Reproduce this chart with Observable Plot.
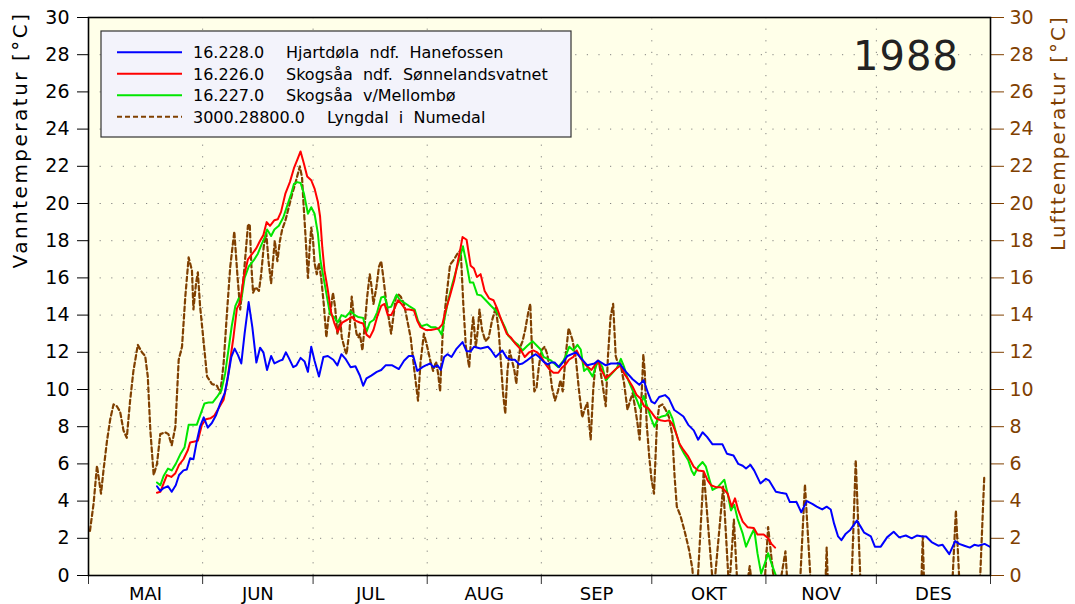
<!DOCTYPE html>
<html><head><meta charset="utf-8">
<script src="https://cdn.jsdelivr.net/npm/d3@7"></script>
<script src="https://cdn.jsdelivr.net/npm/@observablehq/plot@0.6"></script>
<style>
body{margin:0;background:#fff;}
#chart{width:1075px;height:604px;}
</style></head><body><div id="chart"></div>
<script>
// Month labels and month-start day offsets (day 0 = 1 May 1988)
const months = ["MAI","JUN","JUL","AUG","SEP","OKT","NOV","DES"];
const monthStarts = [0,31,61,92,123,153,184,214,245];
const yTicks = d3.range(0,31,2);
const yearLabel = "1988";
const leftTitle = "Vanntemperatur [°C]";
const rightTitle = "Lufttemperatur [°C]";
const legendCodes = ["16.228.0","16.226.0","16.227.0","3000.28800.0"];
const legendNames = ["Hjartdøla  ndf.  Hanefossen","Skogsåa  ndf.  Sønnelandsvatnet","Skogsåa  v/Mellombø","Lyngdal  i  Numedal"];

// [day, °C] — Lyngdal i Numedal air temperature
const air = [[0.4,2.4],[1.4,3.9],[2.3,5.9],[3.4,4.4],[4.1,5.7],[5,7.2],[5.9,8.4],[6.8,9.2],[7.7,9.1],[8.6,8.8],[9.5,7.8],[10.4,7.4],[11.3,9.4],[12.2,11],[13.4,12.4],[14.5,12],[15.4,11.8],[16.1,10.7],[16.8,7.8],[17.7,5.4],[18.6,6],[19.5,7.6],[20.8,7.7],[21.7,7.6],[22.6,7],[23.6,8],[24.5,11.6],[25.4,12.3],[26.3,15],[27.2,17.1],[28.1,16.4],[28.5,14.3],[29.2,15.7],[29.7,16.3],[30.3,14.5],[31.3,12.5],[32.2,10.7],[33.5,10.3],[34.9,10.2],[35.8,9.8],[36.7,11.4],[37.6,14.1],[38.5,16.6],[39.6,18.5],[40.5,16],[41.2,14.3],[42.2,16.2],[43.3,18.8],[43.8,18.9],[44.2,16.8],[44.7,15.2],[45.4,15.5],[46.3,15.3],[46.9,16.2],[47.6,17.7],[48.3,18.4],[48.9,16.9],[49.6,15.7],[50.2,17.1],[50.6,18],[51.3,16.9],[52,18],[52.6,18.6],[53.5,19.1],[54.4,19.8],[55.3,20.5],[56.2,21.1],[57.4,22],[58,21.4],[58.4,20],[58.9,18.4],[59.6,16],[60.1,17.7],[60.5,18.7],[61,18],[61.4,16.8],[62,16.2],[62.6,16.8],[63.2,16],[63.9,14.6],[64.6,12.8],[65.2,13.9],[65.8,14.3],[66.4,15.2],[67,14.4],[67.6,13],[68.4,13.7],[68.8,12.8],[69.7,12.1],[70.1,11.9],[70.9,13.2],[71.5,15],[72.1,13.9],[72.8,13],[73.3,12.8],[73.7,13],[74.4,12.1],[75,13.4],[75.7,15],[76.4,16.2],[76.9,15.5],[77.4,14.6],[78.2,15.5],[78.9,16.6],[79.5,16.9],[80.1,16],[80.8,14.8],[81.5,13.9],[82.2,13],[82.8,13.9],[83.5,15],[84.2,15.1],[84.8,15],[85.7,14.6],[86.6,13.7],[87.5,12.8],[88.4,11.2],[89.5,9.4],[90.2,11.5],[91.1,13],[92,12.3],[92.9,11.5],[93.6,11],[94.4,11.5],[95,10.8],[95.5,9.9],[96.2,13],[97.1,14.8],[98.2,16.7],[99.3,17],[100.2,17.3],[101.1,17.5],[101.8,14.6],[102.5,12.3],[103.4,11.2],[104,13],[104.5,13.9],[105.2,12.3],[105.8,13.3],[106.2,14.3],[106.9,13.2],[107.8,12.6],[108.7,12.8],[109.6,13.7],[110.6,14.4],[111.4,13.2],[112,11.5],[112.6,9.8],[113.2,8.7],[113.8,11],[114.4,12.1],[115.1,11.5],[115.7,11],[116.2,10.3],[116.7,11.4],[117.3,12.3],[117.9,12.6],[118.6,13.2],[119.5,14.2],[120,14.6],[120.5,11.9],[121.1,9.9],[121.7,10.1],[122.3,11.2],[123,12.1],[123.9,12.3],[124.6,11.9],[125.2,11.2],[125.9,10.1],[126.7,9.4],[127.5,9.9],[128.2,10.5],[128.8,9.9],[129.6,11.8],[130.4,13.3],[131.4,12.7],[132.3,11.8],[133.2,10],[134.1,8.5],[134.7,8.9],[135.5,9.3],[136.4,7.3],[137.1,10],[137.7,11.4],[138.7,11.4],[139.6,10.3],[140.5,9.1],[141.1,11.8],[141.8,13.9],[142.5,14.6],[143.2,11.8],[143.8,11.4],[144.5,11.4],[145.5,10.3],[146.4,8.9],[147.1,9.4],[147.8,9.8],[148.4,9.1],[149.1,8.2],[149.7,7.3],[150.3,10],[150.7,11.9],[151.1,10.9],[151.6,8.2],[152.3,6.4],[152.9,5.2],[153.6,4.4],[154.4,8.2],[155,9.1],[155.9,9.2],[156.8,8.9],[157.7,8.5],[158.6,7.5],[159.2,5.3],[159.8,3.7],[160.8,3.2],[161.9,2.4],[163.1,1.4],[164,0.4],[165,-2],[167.1,5.6],[169.8,-1],[170,-0.5],[172.4,4.8],[174,-0.8],[175.3,3],[176.5,-1.5],[178.5,-1],[179.6,0.5],[180.5,-1],[183.3,-1.5],[184.6,2.6],[186.3,-0.5],[187.8,-0.5],[189.3,1.3],[190,-1],[193,-1.5],[194.6,4.9],[196.5,-1.5],[199.9,-2],[200.5,1.5],[201.1,-2],[206.8,-3],[208.4,6.2],[210.2,-3],[225.5,-5],[226.6,2.1],[227.6,-5],[234,-3],[235.6,3.5],[237.2,-3],[241.6,-3],[243.3,5.3]];

// 16.228.0 Hjartdøla ndf. Hanefossen
const hjartdola = [[18.6,4.8],[19.5,4.55],[20.4,4.7],[21.6,4.8],[22.6,4.5],[23.7,4.85],[24.6,5.4],[25.8,5.65],[26.7,5.7],[27.6,6.3],[28.5,6.25],[29.4,7.2],[30.3,8],[31.3,8.5],[32.4,7.95],[33.5,8.2],[34.6,8.6],[35.8,9.25],[37,9.8],[37.9,10.7],[38.8,11.75],[39.7,12.2],[40.6,11.85],[41.5,11.4],[42.4,13],[43.5,14.7],[44.5,13.35],[45.6,11.45],[46.6,12.25],[47.5,12],[48.5,11.05],[49.6,11.8],[50.5,11.4],[52,11.55],[52.7,11.6],[53.6,12],[54.4,11.7],[55.6,11.2],[56.5,11.3],[57.6,11.7],[58.7,11.5],[59.6,10.95],[60.5,12.3],[61.4,11.55],[62.6,10.7],[63.8,11.75],[65,11.8],[66.5,11.6],[67.6,11.3],[68.7,11.9],[69.8,11.65],[71.2,11.2],[72.5,11.25],[73.7,10.75],[74.6,10.2],[75.5,10.6],[76.8,10.75],[78.3,10.95],[79.5,11.05],[80.7,11.3],[82.5,11.3],[84.3,11.1],[85.7,11.55],[87,11.8],[88.2,11.8],[89.3,11],[90.7,11.2],[91.6,11.3],[92.8,11.4],[93.7,11.2],[94.8,11.3],[95.7,11.05],[96.6,11.75],[97.5,11.9],[98.6,11.75],[100,12.2],[101.6,12.55],[102.7,12.05],[103.8,12.05],[104.7,12.3],[106.5,12.2],[108.5,12.3],[109.4,12.1],[110.6,11.75],[112.4,12.1],[113.6,11.7],[114.7,11.6],[115.8,11.6],[117,11.35],[117.9,11.4],[119,11.55],[120.3,11.75],[121.5,11.9],[122.4,11.75],[123.6,11.5],[124.7,11.35],[125.6,11.45],[126.6,11.45],[127.8,11.2],[129,11.5],[130.1,11.8],[132.4,12],[133.7,11.7],[135.5,11.3],[137.4,11.4],[138.4,11.55],[140.5,11.3],[141.9,11.4],[144.2,11.4],[146,10.95],[147.8,10.55],[149.6,10.25],[150.8,10.5],[152,9.8],[152.9,9.35],[153.8,9.25],[155,9.6],[156.6,9.7],[157.7,9.5],[159.1,8.9],[160.2,8.75],[161.6,8.55],[162.9,8.1],[164.4,7.8],[165.6,7.3],[166.8,7.7],[168,7.45],[169.5,7.05],[170.9,7.05],[172.2,7.05],[173.4,6.55],[175.2,6.45],[176.5,6],[177.7,5.9],[178.6,5.75],[179.8,5.95],[180.8,5.65],[182.5,4.95],[184,5.2],[184.9,5.1],[186.7,4.5],[188,4.45],[189.5,4.4],[190.5,3.95],[192.3,3.95],[193.6,3.4],[195.1,4],[196.6,3.85],[197.8,3.7],[199.3,3.55],[200.5,3.7],[201.6,3.55],[202.5,2.8],[203.6,2.1],[204.5,1.9],[205.7,2.25],[206.9,2.45],[208.7,2.95],[209.8,2.6],[210.7,2.3],[212.5,2.1],[213.6,1.55],[215.2,1.55],[216.9,2.05],[218.7,2.35],[220.2,2.05],[222,2.15],[223.6,2],[225,2.15],[226.6,2.1],[227.5,2.1],[229,1.8],[230.8,1.6],[232,1.65],[233.8,1.15],[235.4,1.85],[236.5,1.7],[237.9,1.6],[239.4,1.5],[240.6,1.65],[241.7,1.6],[243.4,1.7],[244.8,1.55]];

// 16.226.0 Skogsåa ndf. Sønnelandsvatnet
const skogsaaNdf = [[18.6,4.45],[19.5,4.5],[20.4,4.95],[21.3,5.4],[22.5,5.3],[23.6,5.5],[24.6,5.95],[25.8,6.25],[27,6.75],[27.6,7.15],[28.8,7.2],[29.7,7.25],[30.8,8.1],[31.9,8.4],[33.1,8.45],[34.2,8.6],[35.5,9.05],[36.7,9.45],[37.6,10.35],[38.5,11.6],[39.4,12.85],[40.3,14.35],[41.2,14.7],[42.2,16.05],[43.3,17],[44.5,17.3],[45.6,17.6],[46.6,18],[47.5,18.3],[48.4,19],[49.3,18.8],[50.5,19.1],[51.4,19.15],[52.3,19.55],[53.5,20.55],[54.7,21.15],[55.8,21.9],[56.7,22.35],[57.6,22.8],[58.5,22.15],[59.4,21.45],[60.5,21.25],[61.4,20.8],[62.3,20.1],[62.9,19.3],[63.5,17.65],[64.1,16.4],[65,15.35],[65.9,14.15],[66.8,13.55],[67.7,13.1],[68.9,13.6],[70.3,13.75],[71.6,13.9],[72.5,13.7],[73.7,13.6],[74.6,13.55],[75.5,12.95],[76.4,12.8],[77.4,13.2],[78.4,13.9],[79.5,14.5],[80.4,14.6],[81.3,14],[82.2,14],[83.1,14.35],[84.1,14.8],[85,14.6],[86.1,14.3],[87.1,14.3],[88.4,14.25],[89.3,13.7],[90.2,13.35],[91.6,13.2],[93,13.2],[94.3,13.25],[95.2,13.3],[96.1,13.5],[97,14.25],[98.2,15.05],[99.3,15.85],[100.2,16.75],[100.9,17.45],[101.6,18.2],[102.7,18.05],[103.8,16.65],[104.7,16.5],[105.5,16.05],[106.5,16.2],[107.6,15.3],[108.8,14.9],[110,14.8],[111.1,14.3],[112.2,13.7],[113.6,13],[114.7,12.8],[116,12.45],[117.2,12.2],[118.5,11.75],[119.7,12],[120.8,12.1],[121.9,12],[123,11.75],[124.2,11.35],[125.1,11.1],[126.3,10.9],[127.6,10.9],[128.5,11.15],[129.6,11.35],[130.5,11.6],[131.7,11.75],[132.6,12.1],[133.6,11.7],[135.1,11.3],[136.6,11.05],[138.4,11.55],[139.3,11.05],[140.5,10.6],[141.9,10.85],[143.5,11.15],[144.6,11.3],[145.5,10.85],[146.4,10.6],[147.8,10.15],[148.9,9.7],[150,9.5],[150.9,9.1],[152,9],[152.8,8.8],[154.1,8.45],[155.3,8.35],[156.6,8.3],[157.7,8.35],[158.6,8.15],[159.6,7.65],[160.5,7.1],[161.6,6.75],[162.9,6.4],[164.4,5.85],[165.6,5.65],[167.1,5.6],[168.2,5.1],[169.1,4.85],[170.4,4.75],[171.8,4.75],[172.7,4.6],[173.6,4.4],[174.7,3.7],[175.6,4.15],[176.5,3.5],[177.7,2.9],[179,2.6],[180.7,2.55],[181.7,2.2],[183.4,2.2],[184.6,2],[185.5,1.7],[186.5,1.5]];

// 16.227.0 Skogsåa v/Mellombø
const skogsaaMel = [[18.6,5],[19.5,4.85],[20.4,5.35],[21.6,5.75],[22.6,5.65],[23.7,6],[24.9,6.5],[26.1,6.9],[27.2,8.1],[28.3,8.1],[29.4,8.1],[30.3,8.6],[31.5,9.25],[32.6,9.3],[33.7,9.3],[34.9,9.6],[36.1,9.95],[37.1,10.85],[38,12.1],[38.9,13.4],[39.9,14.5],[40.8,14.9],[41.5,14.8],[42.4,16],[43.5,16.6],[44.9,16.95],[46,17.3],[46.9,17.75],[47.8,18.15],[48.5,18.6],[49.6,18.25],[50.5,18.6],[51.7,18.8],[52.9,19.25],[54,19.9],[55.1,20.55],[55.8,21.05],[56.7,21.15],[57.6,21.1],[58.5,20.55],[59.6,19.45],[60.5,19.8],[61.4,19.45],[62.3,18.4],[63,16.95],[63.9,15.95],[64.8,14.95],[65.6,14.05],[66.7,13.9],[67.7,13.6],[68.7,14],[69.8,13.9],[71.2,14.2],[72.3,14],[73.2,13.9],[74.6,13.85],[75.5,13.1],[76.4,13.6],[77.5,13.75],[78.4,14.15],[79.5,14.95],[80.4,15],[81.3,14.4],[82.2,14.45],[83.7,15.1],[84.6,14.8],[85.9,14.65],[87,14.5],[88.6,14.3],[89.5,13.7],[90.4,13.4],[91.9,13.5],[93,13.35],[94.3,13.35],[95.2,13.2],[95.9,12.95],[96.6,13.7],[97.7,14.8],[98.8,15.65],[100,16.5],[100.9,17.1],[101.7,17.7],[102.7,16.75],[103.6,15.75],[104.5,15.75],[105.6,15.1],[106.7,15.05],[107.9,14.8],[109.3,14.5],[110.6,14.25],[112,13.8],[113.1,13.35],[114,12.9],[115.4,12.6],[116.7,12.4],[117.9,12.1],[119.2,12.35],[120.6,12.6],[121.8,12.35],[122.8,12.15],[123.6,11.75],[124.7,11.65],[125.7,11.55],[127.6,11.2],[129,11.55],[129.7,11.85],[130.6,12.3],[131.7,12.1],[132.8,12.4],[133.7,12.15],[134.6,11],[135.5,11.15],[136.9,10.7],[138.4,11.55],[139.6,11.2],[140.5,10.5],[141.9,10.8],[143.5,11.15],[144.6,11.65],[145.5,11.2],[146.4,10.6],[147.8,9.95],[148.9,9.45],[149.8,9],[150.8,9.65],[151.9,9],[152.8,8.45],[153.7,8],[154.7,8.45],[155.7,8.55],[156.8,8.6],[157.7,8.85],[158.6,8.45],[159.6,7.65],[160.7,6.95],[161.8,6.55],[162.9,6.2],[163.8,5.65],[164.5,5.4],[165.6,5.85],[166.8,6.1],[167.7,5.85],[168.6,5.2],[169.5,4.6],[170.9,4.75],[171.8,4.95],[172.7,5.15],[173.6,4.4],[174.5,3.5],[175.4,3.8],[176.3,3.05],[177.7,2.25],[178.6,1.55],[179.8,2.1],[180.8,2.5],[181.7,1.2],[182.7,0.1],[183.7,0.65],[184.6,1.2],[185.5,0.65],[186.7,0]];

const BLUE="#0000ff", RED="#ff0000", GREEN="#00e600", BROWN="#804000";
const seriesColors = [BLUE, RED, GREEN, BROWN];

const mids = months.map((m,i)=>(monthStarts[i]+monthStarts[i+1])/2);
const F = "DejaVu Sans";

const plot = Plot.plot({
  width:1075, height:604,
  marginLeft:88, marginRight:85, marginTop:17, marginBottom:29,
  style:{fontFamily:F, fontSize:"19px", background:"#fff", overflow:"visible"},
  x:{type:"linear", domain:[0,245]},
  y:{domain:[0,30]},
  marks:[
    Plot.frame({fill:"#ffffe9"}),
    Plot.gridY(yTicks.slice(1,-1), {stroke:"#777", strokeOpacity:0.9, strokeDasharray:"1.2,10.4"}),
    Plot.gridX(monthStarts.slice(1,-1), {stroke:"#777", strokeOpacity:0.9, strokeDasharray:"1.2,10.4"}),
    Plot.line(air, {x:d=>d[0], y:d=>d[1], stroke:BROWN, strokeWidth:2.2, strokeDasharray:"4.5,3", clip:true}),
    Plot.line(skogsaaMel, {x:d=>d[0], y:d=>d[1], stroke:GREEN, strokeWidth:2, clip:true}),
    Plot.line(skogsaaNdf, {x:d=>d[0], y:d=>d[1], stroke:RED, strokeWidth:2, clip:true}),
    Plot.line(hjartdola, {x:d=>d[0], y:d=>d[1], stroke:BLUE, strokeWidth:2, clip:true}),
    Plot.axisY({anchor:"left", ticks:yTicks, tickSize:11, tickPadding:8, label:null, fontSize:19}),
    Plot.axisY({anchor:"right", ticks:yTicks, tickSize:13, tickPadding:6, label:null, color:BROWN, fontSize:19}),
    Plot.axisX({ticks:monthStarts, tickSize:9, tickFormat:()=>"", label:null, stroke:"#333"}),
    Plot.axisX({ticks:mids, tickSize:0, tickPadding:12, tickFormat:d=>months[mids.indexOf(d)], label:null, fontSize:18}),
    Plot.frame({stroke:"#000", strokeWidth:1.6})
  ]
});
document.getElementById("chart").appendChild(plot);

const svg = d3.select(plot);
// axis titles
svg.append("text").attr("transform","translate(21,140) rotate(-90)").attr("text-anchor","middle")
  .attr("dominant-baseline","middle").attr("font-family",F).attr("font-size",20).attr("letter-spacing",2.5)
  .attr("fill","#000").text(leftTitle);
svg.append("text").attr("transform","translate(1059,133) rotate(-90)").attr("text-anchor","middle")
  .attr("dominant-baseline","middle").attr("font-family",F).attr("font-size",20).attr("letter-spacing",2)
  .attr("fill",BROWN).text(rightTitle);
// year label
svg.append("text").attr("x",906).attr("y",70).attr("text-anchor","middle").attr("font-family",F)
  .attr("font-size",40).attr("letter-spacing",1).attr("fill","#222").text(yearLabel);
// legend
const lg = svg.append("g").attr("font-family",F).attr("font-size",16).attr("text-anchor","start");
lg.append("rect").attr("x",101).attr("y",31).attr("width",470).attr("height",106)
  .attr("fill","#f3f3fb").attr("stroke","#333").attr("stroke-width",1.2);
legendCodes.forEach((c,i)=>{
  const y = 52.3 + i*21.5;
  lg.append("line").attr("x1",117).attr("x2",182).attr("y1",y).attr("y2",y)
    .attr("stroke",seriesColors[i]).attr("stroke-width",2)
    .attr("stroke-dasharray", i===3 ? "5,3" : null);
  lg.append("text").attr("x",193).attr("y",y).attr("dy","0.36em").attr("text-anchor","start")
    .attr("fill","#000").style("white-space","pre").text(c);
  lg.append("text").attr("x", i===3 ? 327 : 286).attr("y",y).attr("dy","0.36em").attr("text-anchor","start")
    .attr("fill","#000").style("white-space","pre").text(legendNames[i]);
});
</script>
</body></html>
